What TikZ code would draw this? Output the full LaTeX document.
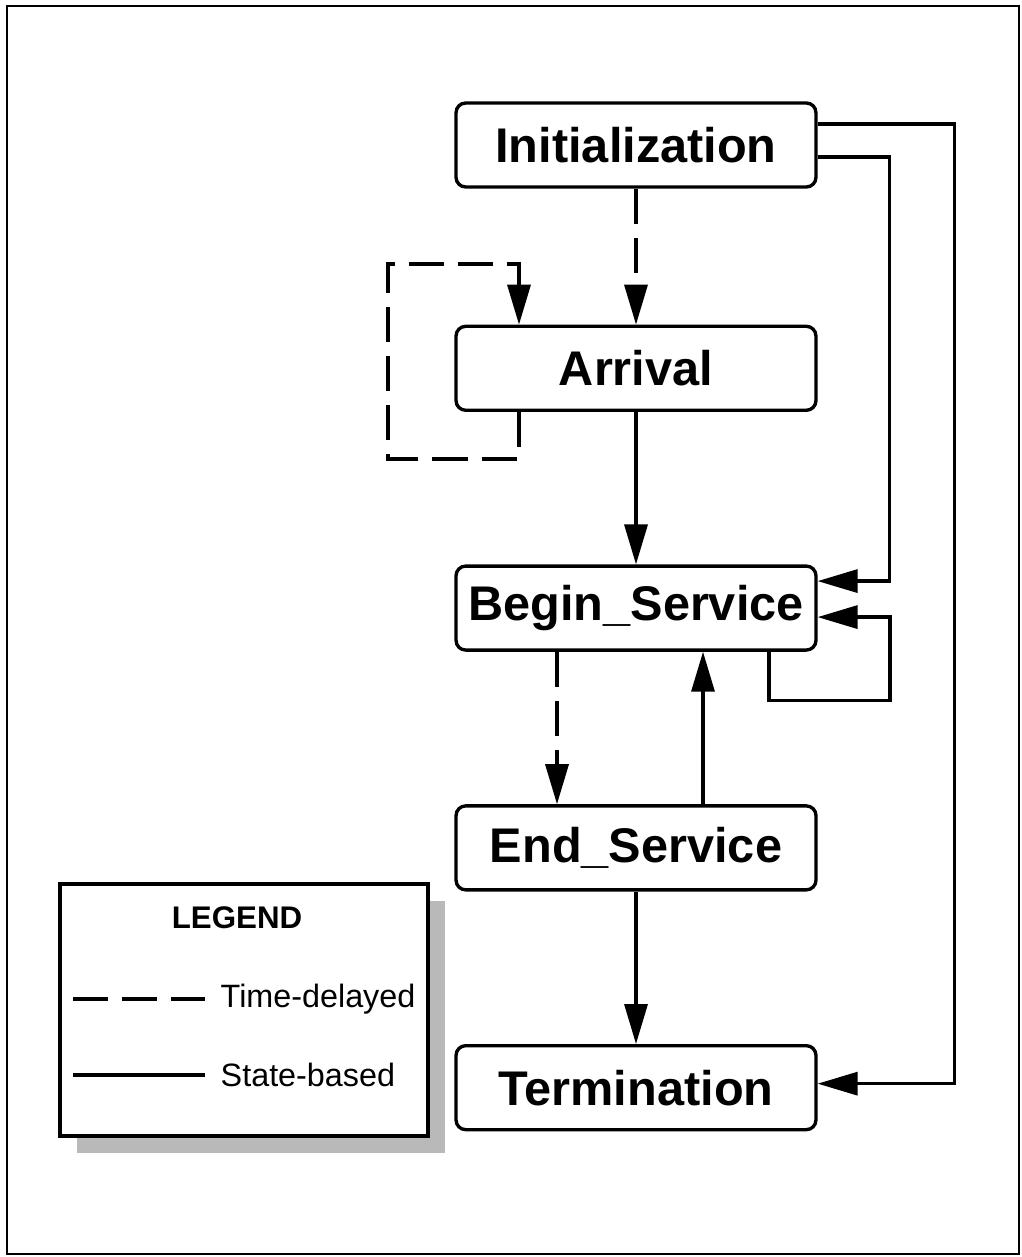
\documentclass[tikz,border=0pt]{standalone}
\usepackage{fontspec}
\setsansfont{Liberation Sans}
\usepackage{tikz}
\usetikzlibrary{arrows.meta,positioning,calc,shadows}

\begin{document}
\begin{tikzpicture}[x=0.02cm,y=-0.02cm,line width=1.9pt,>={Triangle[length=0.8cm,width=0.46cm]},node distance=3.05cm,
	main node/.style={draw, rounded corners=5.5pt, minimum width=7.2cm, minimum height=1.68cm, inner sep=0pt, font=\sffamily\bfseries\fontsize{27.7}{30}\selectfont},
	delay/.style={dash pattern=on 20pt off 8pt},
	legend text/.style={font=\sffamily\fontsize{18.4}{21}\selectfont}]
			\useasboundingbox (0,0) rectangle (1021,1257);
			\draw[line width=1.3pt] (7,6) rectangle (1019,1254);
			
			\node[main node] (1) at (636,145) {Initialization};
			\node[main node] (2) [below=2.72cm of 1] {Arrival};
			\node[main node] (3) [below=of 2] {Begin\_Service};
			\node[main node] (4) [below=of 3] {End\_Service};
			\node[main node] (5) [below=of 4] {Termination};
			
			% legend
			\node[draw, fill=white, minimum width=7.36cm, minimum height=5.04cm, drop shadow={shadow xshift=0.34cm, shadow yshift=-0.34cm, fill=gray!55, opacity=1}] (6) at (244,1010) {};
			\node[font=\sffamily\bfseries\fontsize{17.8}{20}\selectfont] (7) at (237,918) {LEGEND};
			\node[legend text, anchor=west, inner xsep=8pt] (8) at (205,999) {Time-delayed};
			\node[legend text, anchor=west, inner xsep=8pt] (9) at (205,1075) {State-based};
			\coordinate (a) at (73,999);
			\coordinate (b) at (73,1075);
			\draw[delay] (a) -- (8.west);
			\draw (b) -- (9.west);
			
			\path[->]
			(1) edge [delay] (2)
			(2) edge (3)
			($(3.south)+(-79,0)$) edge [delay] ($(4.north)+(-79,0)$)
			($(4.north)+(67,0)$) edge ($(3.south)+(67,0)$)
			(4) edge (5);
			
			\draw[->,delay] ($(2.south)+(-117,0)$) -- ++(0,47) -| ++(-131,-195) -| ($(2.north)+(-117,0)$);
			\draw[->] ($(1.east)+(0,-21)$) -- ++(137,0) |- ($(5.east)+(0,-4)$);
			\draw[->] ($(1.east)+(0,12)$) -- ++(72,0) |- ($(3.east)+(0,-27)$);
			\draw[->] ($(3.south)+(133,0)$) |- ++(121,49) |- ($(3.east)+(0,9)$);
			
\end{tikzpicture}
\end{document}
